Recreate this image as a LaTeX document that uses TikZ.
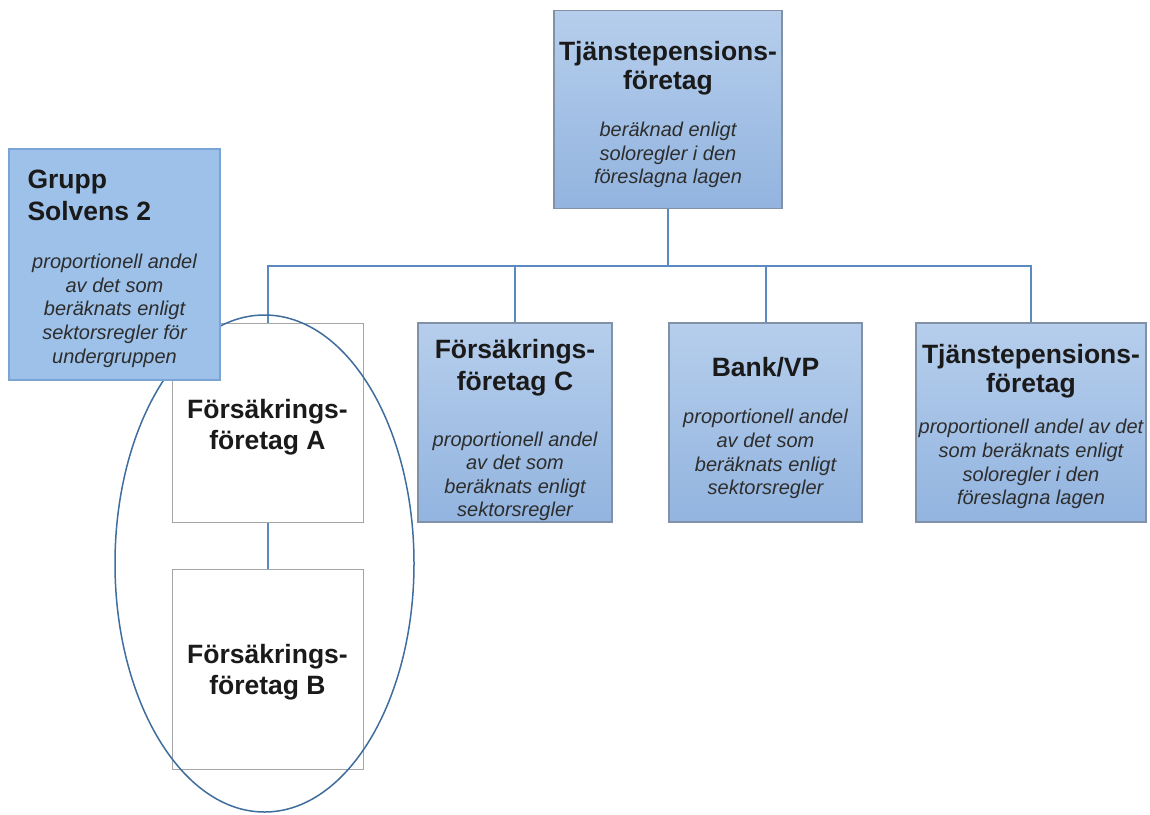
\documentclass[tikz,border=0pt]{standalone}
\usepackage{fontspec}
\setmainfont{Liberation Sans}
\definecolor{filltop}{RGB}{182,206,236}
\definecolor{fillbot}{RGB}{146,180,223}
\definecolor{boxdraw}{RGB}{128,145,168}
\definecolor{gfill}{RGB}{157,193,233}
\definecolor{gdraw}{RGB}{122,163,214}
\definecolor{conncol}{RGB}{90,138,192}
\definecolor{ellcol}{RGB}{63,109,158}
\definecolor{plaindraw}{RGB}{166,166,166}
\definecolor{txtcol}{RGB}{26,26,26}
\definecolor{bodycol}{RGB}{45,45,45}
\newcommand\ttl[1]{{\upshape\bfseries\fontsize{26.5}{23.6}\selectfont #1}}
\newcommand\bl[1]{{\color{bodycol}\mdseries\itshape\fontsize{20}{23.6}\selectfont #1}}
\newcommand\basefnt{\upshape\mdseries\fontsize{20}{23.6}\selectfont}
\AtBeginDocument{\lineskiplimit=-100pt\relax\lineskip=0pt\relax}
\begin{document}
\begin{tikzpicture}[x=1pt,y=-1pt,
  bluebox/.style={draw=boxdraw, line width=1.2pt, top color=filltop, bottom color=fillbot, inner sep=0pt},
  groupbox/.style={draw=gdraw, line width=1.2pt, fill=gfill, inner sep=0pt},
  plainbox/.style={draw=plaindraw, fill=white, line width=1pt, inner sep=0pt},
  txt/.style={align=center, inner sep=0pt, text=txtcol, font=\basefnt},
  conn/.style={draw=conncol, line width=2pt},
  oval/.style={draw=ellcol, line width=1.5pt}]
\useasboundingbox (0,0) rectangle (1150,814);

% boxes
\node[bluebox, minimum width=228pt, minimum height=198pt] (top) at (668,109.5) {};
\node[bluebox, minimum width=194pt, minimum height=199pt] (c) at (515,422.5) {};
\node[bluebox, minimum width=193pt, minimum height=199pt] (bank) at (765.5,422.5) {};
\node[bluebox, minimum width=230pt, minimum height=199pt] (tp) at (1031,422.5) {};
\node[plainbox, minimum width=191pt, minimum height=199pt] (a) at (267.5,422.5) {};
\node[plainbox, minimum width=191pt, minimum height=200pt] (b) at (267.5,669) {};

% connectors
\coordinate (bus) at (668,266);
\draw[conn] (top.south) -- (top.south |- bus);
\draw[conn] (a.north) |- (tp.north |- bus) -- (tp.north);
\draw[conn] (c.north) -- (c.north |- bus);
\draw[conn] (bank.north) -- (bank.north |- bus);
\draw[conn] (a.south) -- (b.north);

% ellipse around A and B
\draw[oval] (264.5,563.5) ellipse [x radius=149.5, y radius=248.5];

% group box
\node[groupbox, minimum width=211pt, minimum height=231pt] (grupp) at (114.5,264.5) {};

% texts
\node[txt] (toptxt) at (668,114.5) {\ttl{Tjänstepensions-}\\[5.4pt]\ttl{företag}\\[24.1pt]\bl{beräknad enligt}\\\bl{soloregler i den}\\\bl{föreslagna lagen}};
\node[txt] (gtxt) at (114.5,268.7) {\makebox[174pt][l]{\ttl{Grupp}}\\[8.4pt]\makebox[174pt][l]{\ttl{Solvens 2}}\\[24.4pt]\bl{proportionell andel}\\\bl{av det som}\\\bl{beräknats enligt}\\\bl{sektorsregler för}\\\bl{undergruppen}};
\node[txt] (ctxt) at (515,430.15) {\ttl{Försäkrings-}\\[8.4pt]\ttl{företag C}\\[32pt]\bl{proportionell andel}\\\bl{av det som}\\\bl{beräknats enligt}\\\bl{sektorsregler}};
\node[txt] (banktxt) at (765.5,428.05) {\ttl{Bank/VP}\\[23.7pt]\bl{proportionell andel}\\\bl{av det som}\\\bl{beräknats enligt}\\\bl{sektorsregler}};
\node[txt] (tptxt) at (1031,426.85) {\ttl{Tjänstepensions-}\\[5.4pt]\ttl{företag}\\[17.4pt]\bl{proportionell andel av det}\\\bl{som beräknats enligt}\\\bl{soloregler i den}\\\bl{föreslagna lagen}};
\node[txt] (atxt) at (267.5,427) {\ttl{Försäkrings-}\\[7.4pt]\ttl{företag A}};
\node[txt] (btxt) at (267.5,672.3) {\ttl{Försäkrings-}\\[6.7pt]\ttl{företag B}};
\end{tikzpicture}
\end{document}
